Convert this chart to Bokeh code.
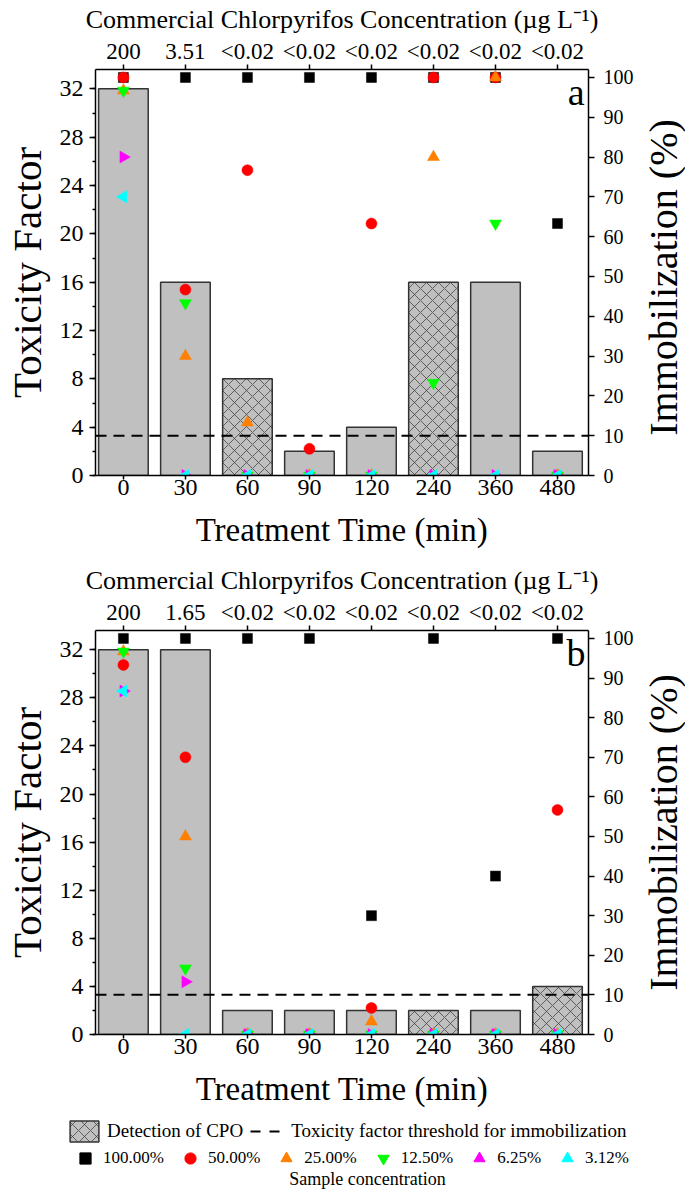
import numpy as np
from bokeh.plotting import figure
from bokeh.models import (Range1d, LinearAxis, FixedTicker, SingleIntervalTicker, Span, Label,
                          Legend, LegendItem, ColumnDataSource)
from bokeh.layouts import column, row
from bokeh.embed import file_html
from bokeh.resources import INLINE

FONT = "Liberation Serif"

# ---------------- data ----------------
times = ["0", "30", "60", "90", "120", "240", "360", "480"]
conc_a = ["200", "3.51", "<0.02", "<0.02", "<0.02", "<0.02", "<0.02", "<0.02"]
conc_b = ["200", "1.65", "<0.02", "<0.02", "<0.02", "<0.02", "<0.02", "<0.02"]

tf_a = [32, 16, 8, 2, 4, 16, 16, 2]
cpo_a = [False, False, True, False, False, True, False, False]
tf_b = [32, 32, 2, 2, 2, 2, 2, 4]
cpo_b = [False, False, False, False, False, True, False, True]

threshold_tf = 3.3

series_labels = ["100.00%", "50.00%", "25.00%", "12.50%", "6.25%", "3.12%"]

imm_a_100 = [100, 100, 100, 100, 100, 100, 100, 63.3]
imm_a_50 = [100, 46.7, 76.7, 6.7, 63.3, 100, 100, 0]
imm_a_25 = [96.7, 30, 13.3, 0, 0, 80, 100, 0]
imm_a_12 = [96.7, 43.3, 0, 0, 0, 23.3, 63.3, 0]
imm_a_6 = [80, 0, 0, 0, 0, 0, 0, 0]
imm_a_3 = [70, 0, 0, 0, 0, 0, 0, 0]

imm_b_100 = [100, 100, 100, 100, 30, 100, 40, 100]
imm_b_50 = [93.3, 70, 0, 0, 6.7, 0, 0, 56.7]
imm_b_25 = [96.7, 50, 0, 0, 3.3, 0, 0, 0]
imm_b_12 = [96.7, 16.7, 0, 0, 0, 0, 0, 0]
imm_b_6 = [86.7, 13.3, 0, 0, 0, 0, 0, 0]
imm_b_3 = [86.7, 0, 0, 0, 0, 0, 0, 0]

imm_a = [imm_a_100, imm_a_50, imm_a_25, imm_a_12, imm_a_6, imm_a_3]
imm_b = [imm_b_100, imm_b_50, imm_b_25, imm_b_12, imm_b_6, imm_b_3]

# ---------------- styles ----------------
markers = ["square", "circle", "triangle", "inverted_triangle", "triangle", "triangle"]
colors = ["#000000", "#ff0000", "#ff8000", "#00ff00", "#ff00ff", "#00ffff"]
angles = [0, 0, 0, 0, -np.pi / 2, np.pi / 2]
sizes = [10, 11, 12, 12, 12, 12]

BAR_FILL = "#c0c0c0"
BAR_LINE = "#333333"
HATCH = dict(hatch_pattern="diagonal_cross", hatch_color="#333333",
             hatch_scale=12, hatch_weight=0.7)

W_MAIN, W_SIDE = 636, 49
H_A, H_B = 561, 557
H_L = 1189 - H_A - H_B
TOP = 69
FRAME_LEFT, FRAME_RIGHT = 89, 590


def style_axis(ax, label_size, axis_label_size, tick_out=5, label_standoff=3, axis_label_standoff=4):
    ax.axis_line_color = "black"
    ax.axis_line_width = 1.5
    ax.major_tick_line_color = "black"
    ax.major_tick_line_width = 1.5
    ax.major_tick_out = tick_out
    ax.major_tick_in = 0
    ax.minor_tick_line_color = "black"
    ax.minor_tick_line_width = 1.5
    ax.minor_tick_out = 3
    ax.minor_tick_in = 0
    ax.major_label_text_font = FONT
    ax.major_label_text_font_size = label_size
    ax.major_label_text_color = "black"
    ax.major_label_standoff = label_standoff
    ax.axis_label_text_font = FONT
    ax.axis_label_text_font_size = axis_label_size
    ax.axis_label_text_font_style = "normal"
    ax.axis_label_text_color = "black"
    ax.axis_label_standoff = axis_label_standoff


def split_sources(tf, cpo):
    idx = list(range(len(tf)))
    plain = ColumnDataSource(dict(x=[i for i in idx if not cpo[i]],
                                  top=[tf[i] for i in idx if not cpo[i]]))
    hatch = ColumnDataSource(dict(x=[i for i in idx if cpo[i]],
                                  top=[tf[i] for i in idx if cpo[i]]))
    return plain, hatch


def make_panel(tf, cpo, conc, imm, letter, height, frame_h):
    idx = list(range(len(times)))
    p = figure(width=W_MAIN, height=height,
               x_range=Range1d(-0.45, 7.5), y_range=Range1d(0, 33.6),
               output_backend="svg", toolbar_location=None,
               x_axis_location=None, y_axis_location=None,
               min_border_left=FRAME_LEFT, min_border_right=W_MAIN - FRAME_RIGHT,
               min_border_top=TOP, min_border_bottom=height - TOP - frame_h,
               outline_line_color=None, background_fill_color="white")
    p.grid.visible = False
    p.extra_y_ranges = {"right": Range1d(0, 102)}

    left = LinearAxis(ticker=SingleIntervalTicker(interval=4, num_minor_ticks=2),
                      axis_label="Toxicity Factor")
    style_axis(left, "24px", "41px", tick_out=6, label_standoff=6, axis_label_standoff=7)
    p.add_layout(left, "left")

    right = LinearAxis(y_range_name="right",
                       ticker=SingleIntervalTicker(interval=10, num_minor_ticks=0))
    style_axis(right, "20px", "20px", tick_out=6, label_standoff=9)
    p.add_layout(right, "right")

    bottom = LinearAxis(ticker=FixedTicker(ticks=idx),
                        major_label_overrides={i: t for i, t in enumerate(times)},
                        axis_label="Treatment Time (min)")
    style_axis(bottom, "24px", "33px", tick_out=4, label_standoff=0, axis_label_standoff=14)
    p.add_layout(bottom, "below")

    top = LinearAxis(ticker=FixedTicker(ticks=idx),
                     major_label_overrides={i: c for i, c in enumerate(conc)},
                     axis_label="Commercial Chlorpyrifos Concentration (\u00b5g L\u207b\u00b9)")
    style_axis(top, "23px", "26px", tick_out=5, label_standoff=1, axis_label_standoff=2)
    p.add_layout(top, "above")

    plain, hatch = split_sources(tf, cpo)
    p.vbar(x="x", top="top", width=0.8, source=plain,
           fill_color=BAR_FILL, line_color=BAR_LINE, line_width=1.5)
    p.vbar(x="x", top="top", width=0.8, source=hatch,
           fill_color=BAR_FILL, line_color=BAR_LINE, line_width=1.5, **HATCH)

    p.add_layout(Span(location=threshold_tf, dimension="width", line_color="black",
                      line_dash="11 7", line_width=2))

    for k, vals in enumerate(imm):
        src = ColumnDataSource(dict(x=idx, y=vals))
        p.scatter(x="x", y="y", source=src, y_range_name="right",
                  marker=markers[k], size=sizes[k], angle=angles[k],
                  fill_color=colors[k], line_color=colors[k], line_width=0.5)

    p.add_layout(Label(x=7.3, y=31.7, text=letter, text_font=FONT, text_font_size="38px",
                       text_color="black", text_align="center", text_baseline="middle"))
    return p


pa = make_panel(tf_a, cpo_a, conc_a, imm_a, "a", H_A, 406)
pb = make_panel(tf_b, cpo_b, conc_b, imm_b, "b", H_B, 404)

# ---------------- legend strip (legend keys built from panel-b data, hidden) ----------------
pl = figure(width=W_MAIN, height=H_L, x_range=Range1d(0, W_MAIN), y_range=Range1d(0, H_L),
            output_backend="svg", toolbar_location=None,
            x_axis_location=None, y_axis_location=None,
            min_border_left=0, min_border_right=0, min_border_top=0, min_border_bottom=0,
            outline_line_color=None)
pl.grid.visible = False
pl.frame_align = False

_, hatch_b = split_sources(tf_b, cpo_b)
r_cpo = pl.vbar(x="x", top="top", width=0.8, source=hatch_b, fill_color=BAR_FILL,
                line_color=BAR_LINE, line_width=1.5, visible=False, **HATCH)
r_dash = pl.line(x=[0, len(times) - 1], y=[threshold_tf, threshold_tf], line_color="black",
                 line_dash="10 9", line_width=2, visible=False)
r_ser = []
for k in range(6):
    src = ColumnDataSource(dict(x=list(range(len(times))), y=imm_b[k]))
    r_ser.append(pl.scatter(x="x", y="y", source=src, marker=markers[k], size=sizes[k],
                            angle=angles[k], fill_color=colors[k], line_color=colors[k],
                            visible=False))

leg1 = Legend(items=[LegendItem(label="Detection of CPO", renderers=[r_cpo]),
                     LegendItem(label="Toxicity factor threshold for immobilization",
                                renderers=[r_dash])],
              orientation="horizontal", location=(66, H_L - 26),
              glyph_width=36, glyph_height=26, label_standoff=5, spacing=7,
              padding=0, margin=0, border_line_alpha=0, background_fill_alpha=0,
              label_text_font=FONT, label_text_font_size="19px", label_text_color="black")
pl.add_layout(leg1)

leg2 = Legend(items=[LegendItem(label=series_labels[k], renderers=[r_ser[k]]) for k in range(6)],
              orientation="horizontal", location=(71, H_L - 54),
              glyph_width=28, glyph_height=28, label_standoff=4, spacing=12,
              padding=0, margin=0, border_line_alpha=0, background_fill_alpha=0,
              label_text_font=FONT, label_text_font_size="17px", label_text_color="black")
pl.add_layout(leg2)

pl.add_layout(Label(x=367, y=H_L - 60, text="Sample concentration", text_font=FONT,
                    text_font_size="18px", text_color="black",
                    text_align="center", text_baseline="middle"))

# ---------------- right-hand axis titles (read bottom to top) ----------------
H_ALL = H_A + H_B + H_L
side = figure(width=W_SIDE, height=H_ALL, x_range=Range1d(0, W_SIDE), y_range=Range1d(0, H_ALL),
              output_backend="svg", toolbar_location=None,
              x_axis_location=None, y_axis_location=None,
              min_border_left=0, min_border_right=0, min_border_top=0, min_border_bottom=0,
              outline_line_color=None)
side.grid.visible = False
side.frame_align = False
for yc in (H_ALL - (TOP + 406 / 2 + 5), H_ALL - (H_A + TOP + 404 / 2)):
    side.add_layout(Label(x=27, y=yc, text="Immobilization (%)", text_font=FONT,
                          text_font_size="40px", text_color="black", angle=np.pi / 2,
                          text_align="center", text_baseline="middle"))

layout = row(column(pa, pb, pl, spacing=0), side, spacing=0)
open("out.html", "w").write(file_html(layout, INLINE))
